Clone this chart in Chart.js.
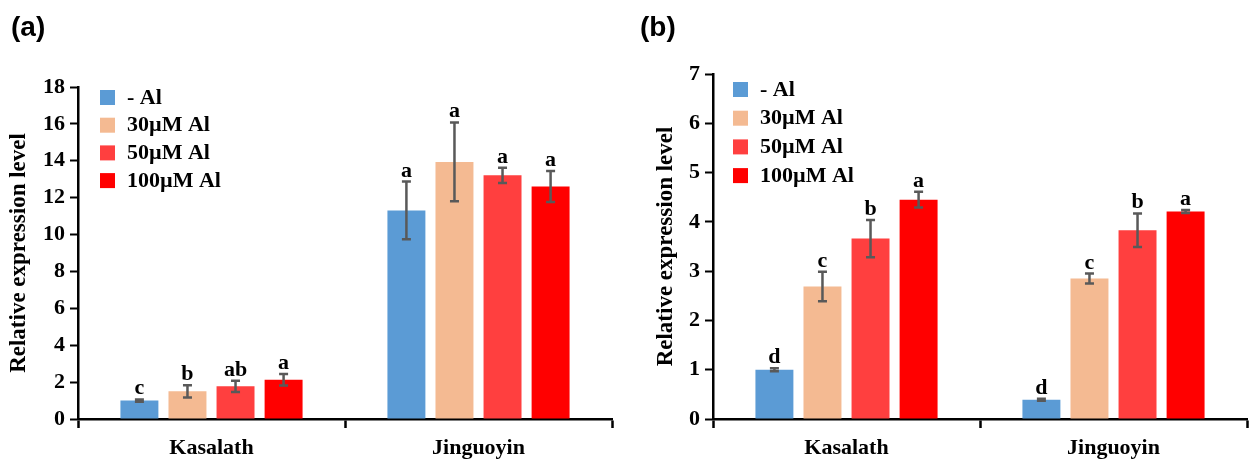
<!DOCTYPE html>
<html>
<head>
<meta charset="utf-8">
<script src="https://cdn.jsdelivr.net/npm/chart.js@4/dist/chart.umd.min.js"></script>
<style>
  body { margin: 0; background: #fff; }
  .wrap { position: relative; width: 1249px; height: 461px; overflow: hidden; }
  canvas { position: absolute; top: 0; }
  .panel { position: absolute; top: 11px; font: bold 28px "Liberation Sans", Arial, sans-serif; color: #000; }
</style>
</head>
<body>
<div class="wrap">
  <canvas id="chartA" width="625" height="461" style="left:0"></canvas>
  <canvas id="chartB" width="619" height="461" style="left:630px"></canvas>
  <div class="panel" style="left:11px">(a)</div>
  <div class="panel" style="left:640px">(b)</div>
</div>
<script>
const categories = ['Kasalath', 'Jinguoyin']
const seriesLabels = ['- Al', '30µM Al', '50µM Al', '100µM Al']
const seriesColors = ['#5B9BD5', '#F4BA92', '#FF3F3F', '#FF0000']

// panel (a)
const aNoAl = [1.0, 11.31]
const a30 = [1.5, 13.94]
const a50 = [1.77, 13.21]
const a100 = [2.13, 12.61]
const aErrNoAl = [0.06, 1.56]
const aErr30 = [0.33, 2.14]
const aErr50 = [0.3, 0.41]
const aErr100 = [0.31, 0.84]
const aLetters = [['c', 'a'], ['b', 'a'], ['ab', 'a'], ['a', 'a']]
const aTicks = { min: 0, max: 18, step: 2 }

// panel (b)
const bNoAl = [1.0, 0.39]
const b30 = [2.69, 2.85]
const b50 = [3.66, 3.83]
const b100 = [4.45, 4.21]
const bErrNoAl = [0.03, 0.02]
const bErr30 = [0.3, 0.1]
const bErr50 = [0.38, 0.34]
const bErr100 = [0.16, 0.03]
const bLetters = [['d', 'd'], ['c', 'c'], ['b', 'b'], ['a', 'a']]
const bTicks = { min: 0, max: 7, step: 1 }

const serif = '"Liberation Serif", "Times New Roman", serif'

const errorBarPlugin = {
    id: 'errorBars',
    afterDatasetsDraw(chart) {
        const ctx = chart.ctx
        const y = chart.scales.y
        chart.data.datasets.forEach((ds, i) => {
            const meta = chart.getDatasetMeta(i)
            meta.data.forEach((bar, j) => {
                const v = ds.data[j]
                const e = ds.errors[j]
                const top = y.getPixelForValue(v + e)
                const bot = y.getPixelForValue(v - e)
                ctx.save()
                ctx.strokeStyle = '#595959'
                ctx.lineWidth = 2.5
                ctx.beginPath()
                ctx.moveTo(bar.x, top); ctx.lineTo(bar.x, bot)
                ctx.moveTo(bar.x - 4.5, top); ctx.lineTo(bar.x + 4.5, top)
                ctx.moveTo(bar.x - 4.5, bot); ctx.lineTo(bar.x + 4.5, bot)
                ctx.stroke()
                ctx.fillStyle = '#000'
                ctx.font = 'bold 22px ' + serif
                ctx.textAlign = 'center'
                ctx.textBaseline = 'alphabetic'
                ctx.fillText(ds.letters[j], bar.x, top - 5)
                ctx.restore()
            })
        })
    }
}

const legendPlugin = {
    id: 'boxLegend',
    afterDraw(chart, args, opts) {
        const ctx = chart.ctx
        const area = chart.chartArea
        chart.data.datasets.forEach((ds, i) => {
            const x = area.left + opts.dx
            const yy = area.top + opts.dy + i * opts.gap
            ctx.save()
            ctx.fillStyle = ds.backgroundColor
            ctx.fillRect(x, yy, 15, 15)
            ctx.fillStyle = '#000'
            ctx.font = 'bold 22px ' + serif
            ctx.textBaseline = 'middle'
            ctx.fillText(ds.label, x + 27, yy + 8)
            ctx.restore()
        })
    }
}

const makeChart = (id, values, errors, letters, ticks, geo) => {
    const datasets = values.map((vals, i) => ({
        label: seriesLabels[i],
        data: vals,
        errors: errors[i],
        letters: letters[i],
        backgroundColor: seriesColors[i],
        barPercentage: 0.79,
        categoryPercentage: 0.72
    }))

    const config = {
        type: 'bar',
        data: { labels: categories, datasets: datasets },
        options: {
            responsive: false,
            animation: false,
            layout: { padding: { left: 0, right: geo.right, top: geo.top, bottom: 0 } },
            plugins: {
                legend: { display: false },
                tooltip: { enabled: false },
                boxLegend: { dx: geo.legendDx, dy: geo.legendDy, gap: geo.legendGap }
            },
            scales: {
                x: {
                    grid: { offset: true, drawOnChartArea: false, tickLength: 9, tickColor: '#000', tickWidth: 2.5 },
                    border: { color: '#000', width: 2.5 },
                    ticks: { color: '#000', font: { family: serif, size: 22, weight: 'bold' }, padding: 7 },
                    afterFit(scale) { scale.height = 42 }
                },
                y: {
                    min: ticks.min,
                    max: ticks.max,
                    grid: { drawOnChartArea: false, tickLength: 8, tickColor: '#000', tickWidth: 2 },
                    border: { color: '#000', width: 2.5 },
                    ticks: { stepSize: ticks.step, color: '#000', font: { family: serif, size: 22, weight: 'bold' }, padding: 5 },
                    title: {
                        display: true,
                        text: 'Relative expression level',
                        color: '#000',
                        font: { family: serif, size: 23, weight: 'bold' },
                        padding: { top: geo.titlePad, bottom: 0 }
                    },
                    afterFit(scale) { scale.width = geo.left }
                }
            }
        },
        plugins: [errorBarPlugin, legendPlugin]
    }

    return new Chart(document.getElementById(id).getContext('2d'), config)
}

makeChart('chartA',
    [aNoAl, a30, a50, a100],
    [aErrNoAl, aErr30, aErr50, aErr100],
    aLetters, aTicks,
    { left: 78, right: 13, top: 87, titlePad: 5, legendDx: 22, legendDy: 3, legendGap: 27.7 })

makeChart('chartB',
    [bNoAl, b30, b50, b100],
    [bErrNoAl, bErr30, bErr50, bErr100],
    bLetters, bTicks,
    { left: 83, right: 2, top: 74, titlePad: 22, legendDx: 20, legendDy: 8, legendGap: 28.7 })
</script>
</body>
</html>
